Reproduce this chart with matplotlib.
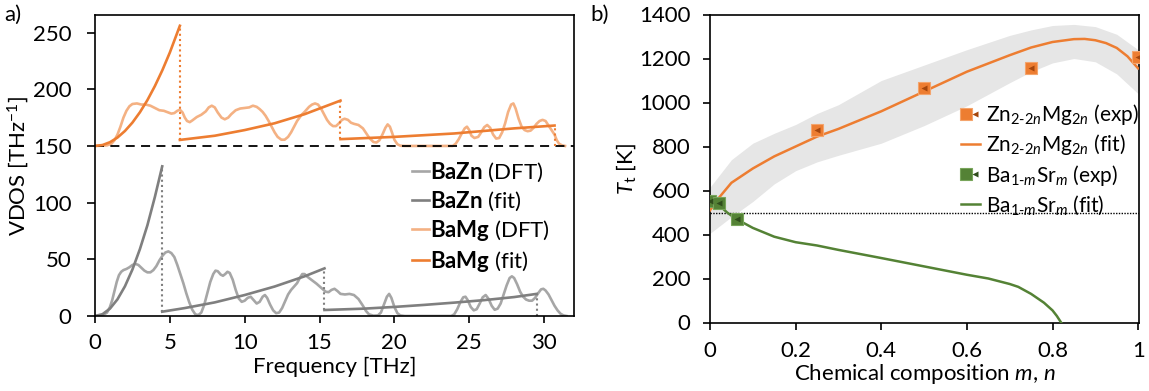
import matplotlib
matplotlib.use("Agg")
import matplotlib.pyplot as plt
from matplotlib.lines import Line2D
from matplotlib.legend_handler import HandlerTuple

plt.rcParams['font.family'] = ['Lato', 'DejaVu Sans']
plt.rcParams['mathtext.fontset'] = 'custom'
plt.rcParams['mathtext.rm'] = 'Lato'
plt.rcParams['mathtext.it'] = 'Lato:italic'
plt.rcParams['mathtext.bf'] = 'Lato:bold'

# ---------------- Panel a data ----------------
bazn_dft = [
    (0, 0), (0.5, 0.5), (0.8, 3), (1.0, 8), (1.15, 14), (1.3, 22), (1.45, 30), (1.6, 36), (1.75, 39),
    (1.9, 40.5), (2.1, 41.5), (2.3, 43), (2.5, 45), (2.7, 46), (2.9, 45), (3.1, 42.5), (3.3, 40),
    (3.5, 38.5), (3.7, 38.5), (3.9, 40.5), (4.1, 44), (4.3, 49), (4.5, 53), (4.7, 56), (4.9, 57),
    (5.1, 55.5), (5.3, 52), (5.5, 45), (5.7, 37), (5.9, 29), (6.1, 20), (6.3, 12), (6.5, 5.5),
    (6.7, 1.5), (6.9, 0.8), (7.1, 3), (7.3, 10), (7.5, 20), (7.7, 30), (7.9, 37), (8.05, 40),
    (8.2, 39.5), (8.4, 36.5), (8.55, 35.5), (8.7, 37), (8.85, 39), (9.0, 38), (9.2, 32), (9.4, 23),
    (9.6, 15.5), (9.8, 12.5), (10.0, 13.5), (10.2, 16), (10.4, 17), (10.6, 14), (10.8, 11),
    (11.0, 12.5), (11.2, 17), (11.35, 18.5), (11.5, 16), (11.7, 10), (11.9, 5), (12.1, 2.5),
    (12.3, 3), (12.5, 7), (12.7, 13), (12.9, 19), (13.1, 23), (13.3, 26), (13.5, 29), (13.7, 34),
    (13.85, 37), (14.0, 37), (14.2, 34.5), (14.5, 31.5), (14.8, 28.5), (15.1, 25), (15.4, 21.5),
    (15.6, 21), (15.8, 23), (16.0, 24), (16.2, 22), (16.4, 19.5), (16.7, 19), (17.0, 19.5),
    (17.3, 18.5), (17.6, 15), (17.9, 9), (18.1, 4.5), (18.3, 1.5), (18.6, 0.3), (18.9, 0.5),
    (19.1, 3), (19.3, 10), (19.5, 17), (19.65, 19.5), (19.8, 16), (20.0, 8), (20.2, 2.5),
    (20.4, 0.5), (20.7, 0), (23.8, 0), (24.0, 1.5), (24.2, 6), (24.4, 12), (24.6, 16.5),
    (24.75, 17), (24.9, 14), (25.1, 8), (25.3, 5), (25.5, 6), (25.7, 11), (25.9, 16.5),
    (26.1, 18.5), (26.3, 15), (26.5, 9), (26.7, 5.5), (26.9, 6.5), (27.1, 11), (27.3, 19),
    (27.5, 27), (27.7, 33.5), (27.85, 35), (28.0, 33.5), (28.2, 28), (28.4, 21.5), (28.6, 17),
    (28.8, 14.5), (29.0, 13.5), (29.2, 13.5), (29.4, 16), (29.6, 20), (29.8, 23.5), (29.95, 24),
    (30.1, 22.5), (30.3, 19), (30.5, 14), (30.7, 9), (30.9, 5), (31.1, 2), (31.3, 0.5), (31.5, 0)]
bazn_dft_f = [p[0] for p in bazn_dft]
bazn_dft_v = [p[1] for p in bazn_dft]

bamg_dft = [
    (0, 150), (0.8, 150.5), (1.1, 152), (1.3, 155), (1.5, 160), (1.7, 167), (1.9, 175), (2.1, 181),
    (2.3, 185), (2.5, 187), (2.8, 187.5), (3.1, 186.5), (3.4, 186.5), (3.7, 185.5), (4.0, 183.5),
    (4.3, 181.5), (4.6, 181), (4.9, 179.5), (5.1, 178.5), (5.3, 179), (5.5, 181), (5.67, 182),
    (5.85, 179.5), (6.0, 175), (6.15, 172), (6.33, 171), (6.5, 172.5), (6.8, 175.5), (7.1, 177.5),
    (7.4, 180.5), (7.6, 184), (7.8, 185.5), (8.0, 184), (8.2, 179.5), (8.45, 175), (8.67, 173.5),
    (8.9, 175), (9.1, 178), (9.4, 181.5), (9.7, 183), (10.0, 183.5), (10.3, 184), (10.55, 185.5),
    (10.8, 184.5), (11.0, 182.5), (11.2, 180), (11.4, 176.5), (11.6, 172), (11.8, 167), (12.0, 162),
    (12.2, 158), (12.45, 155.5), (12.67, 155.5), (12.9, 158), (13.1, 162), (13.3, 167), (13.5, 172),
    (13.8, 177.5), (14.0, 180), (14.3, 184.5), (14.5, 186.5), (14.7, 187.5), (14.9, 186.5),
    (15.1, 183), (15.3, 178), (15.5, 173), (15.7, 169.5), (15.9, 167.5), (16.1, 167.5), (16.3, 170),
    (16.5, 173), (16.67, 174), (16.9, 173), (17.1, 170.5), (17.3, 169.5), (17.6, 168.5),
    (17.9, 165.5), (18.1, 161.5), (18.33, 157), (18.6, 153.5), (18.8, 153), (19.0, 155),
    (19.2, 160), (19.4, 166), (19.55, 169), (19.7, 167), (19.85, 161.5), (20.0, 155.5),
    (20.2, 151.5), (20.4, 150.2), (20.7, 150), (23.9, 150), (24.1, 152), (24.3, 156), (24.5, 161),
    (24.7, 165.5), (24.85, 167), (25.0, 164), (25.15, 159), (25.35, 157), (25.6, 158), (25.8, 162),
    (26.0, 166.5), (26.2, 168.5), (26.4, 166), (26.6, 160), (26.8, 156.5), (27.0, 157), (27.2, 162),
    (27.4, 170), (27.6, 180), (27.8, 186.5), (27.95, 187.5), (28.1, 183), (28.3, 174), (28.5, 167),
    (28.7, 164), (28.9, 163), (29.1, 163.5), (29.3, 166), (29.5, 169.5), (29.7, 172), (29.9, 173),
    (30.1, 172), (30.3, 168), (30.5, 164), (30.7, 160), (30.85, 155), (31.0, 152), (31.2, 150.5),
    (31.4, 150)]
bamg_dft_f = [p[0] for p in bamg_dft]
bamg_dft_v = [p[1] for p in bamg_dft]

# Fit segments (frequency, VDOS)
bazn_fit1_f = [0, 0.5, 1.0, 1.5, 2.0, 2.5, 3.0, 3.5, 4.0, 4.49]
bazn_fit1_v = [0, 1.6, 6.5, 14.7, 26.2, 41, 59, 80, 105, 132]
bazn_fit2_f = [4.49, 6, 8, 10, 12, 14, 15.33]
bazn_fit2_v = [3.8, 7, 12, 18.5, 26, 35, 42]
bazn_fit3_f = [15.33, 18, 20, 22, 24, 26, 28, 29.5]
bazn_fit3_v = [5.3, 6.5, 8, 9.8, 11.8, 14, 16.7, 19.5]
bazn_drop_f = [4.49, 15.33, 29.5]
bazn_drop_top = [132, 42, 19.5]
bazn_drop_bot = [3.8, 5.3, 0]

bamg_fit1_f = [0, 0.5, 1.0, 1.5, 2.0, 2.5, 3.0, 3.5, 4.0, 4.5, 5.0, 5.67]
bamg_fit1_v = [150, 150.8, 153.3, 157.4, 163.2, 170.6, 179.7, 190.4, 202.8, 216.8, 232.4, 256]
bamg_fit2_f = [5.67, 8, 10, 12, 14, 16.4]
bamg_fit2_v = [155.3, 159, 164, 170, 178, 190]
bamg_fit3_f = [16.4, 20, 24, 28, 30.7]
bamg_fit3_v = [156, 158, 161, 165.5, 168]
bamg_drop_f = [5.67, 16.4, 30.7]
bamg_drop_top = [256, 190, 168]
bamg_drop_bot = [155.3, 156, 150]

offset_level = 150

# ---------------- Panel b data ----------------
zn_exp_n = [0.25, 0.5, 0.75, 1.0]
zn_exp_T = [875, 1065, 1155, 1205]
ba_exp_m = [0.0, 0.022, 0.062]
ba_exp_T = [553, 545, 471]

zn_fit_n = [0, 0.02, 0.05, 0.1, 0.15, 0.2, 0.25, 0.3, 0.4, 0.5, 0.6, 0.7, 0.75, 0.8,
            0.85, 0.875, 0.9, 0.925, 0.95, 0.975, 1.0]
zn_fit_T = [510, 565, 635, 700, 755, 800, 845, 880, 960, 1050, 1140, 1215, 1250, 1275,
            1288, 1289, 1283, 1270, 1248, 1210, 1155]

ba_fit_m = [0, 0.02, 0.04, 0.06, 0.1, 0.15, 0.2, 0.25, 0.3, 0.4, 0.5, 0.6, 0.65, 0.7, 0.72,
            0.75, 0.78, 0.8, 0.81, 0.82]
ba_fit_T = [555, 535, 500, 472, 430, 390, 365, 350, 330, 293, 255, 217, 200, 175, 162,
            130, 90, 55, 30, 0]

band_x = [0, 0.05, 0.1, 0.15, 0.2, 0.25, 0.3, 0.4, 0.5, 0.6, 0.7, 0.75, 0.8, 0.85, 0.9, 0.95, 1.0]
band_hi = [615, 740, 815, 860, 900, 950, 990, 1100, 1170, 1240, 1305, 1330, 1350, 1355, 1345, 1310, 1240]
band_lo = [405, 480, 550, 630, 690, 730, 760, 815, 895, 985, 1090, 1140, 1180, 1200, 1185, 1130, 1040]

threshold_T = 500

# ---------------- styling ----------------
C_ZN_DFT = '#a6a6a6'
C_ZN_FIT = '#7f7f7f'
C_MG_DFT = '#f4b183'
C_MG_FIT = '#ed7d31'
C_GREEN = '#548235'
FS = 16

fig = plt.figure(figsize=(11.49, 3.91), dpi=100)
axa = fig.add_axes([95/1149, 1-316/391, (574-95)/1149, (316-15)/391])
axb = fig.add_axes([710/1149, 1-322.5/391, (1139-710)/1149, (322.5-14.5)/391])

for ax in (axa, axb):
    for s in ax.spines.values():
        s.set_linewidth(1.2)
        s.set_color('black')
    ax.tick_params(direction='out', width=1.2, labelsize=FS)
axa.tick_params(axis='x', length=5, pad=7)
axa.tick_params(axis='y', length=6, pad=11)
axb.tick_params(axis='x', length=5, pad=8)
axb.tick_params(axis='y', length=5, pad=9)

# Panel a
lw = 1.9
axa.plot(bazn_dft_f, bazn_dft_v, color=C_ZN_DFT, lw=lw, solid_joinstyle='round')
axa.plot(bamg_dft_f, bamg_dft_v, color=C_MG_DFT, lw=lw, solid_joinstyle='round')
axa.axhline(offset_level, color='black', lw=1.3, ls=(0, (5, 3.5)))
for fx, fy in ((bazn_fit1_f, bazn_fit1_v), (bazn_fit2_f, bazn_fit2_v), (bazn_fit3_f, bazn_fit3_v)):
    axa.plot(fx, fy, color=C_ZN_FIT, lw=lw)
for fx, fy in ((bamg_fit1_f, bamg_fit1_v), (bamg_fit2_f, bamg_fit2_v), (bamg_fit3_f, bamg_fit3_v)):
    axa.plot(fx, fy, color=C_MG_FIT, lw=lw)
axa.vlines(bazn_drop_f, bazn_drop_bot, bazn_drop_top, colors=C_ZN_FIT, lw=1.5, linestyles=(0, (1, 1.5)))
axa.vlines(bamg_drop_f, bamg_drop_bot, bamg_drop_top, colors=C_MG_FIT, lw=1.5, linestyles=(0, (1, 1.5)))

axa.set_xlim(0, 32)
axa.set_ylim(0, 265.5)
axa.set_xticks([0, 5, 10, 15, 20, 25, 30])
axa.set_yticks([0, 50, 100, 150, 200, 250])
axa.set_xlabel('Frequency [THz]', fontsize=FS, labelpad=3)
axa.set_ylabel('VDOS [THz$^{-1}$]', fontsize=FS, labelpad=1)

handles_a = [Line2D([], [], color=C_ZN_DFT, lw=lw), Line2D([], [], color=C_ZN_FIT, lw=lw),
             Line2D([], [], color=C_MG_DFT, lw=lw), Line2D([], [], color=C_MG_FIT, lw=lw)]
labels_a = [r'$\mathbf{BaZn}$ (DFT)', r'$\mathbf{BaZn}$ (fit)', r'$\mathbf{BaMg}$ (DFT)', r'$\mathbf{BaMg}$ (fit)']
axa.legend(handles_a, labels_a, loc='upper left', bbox_to_anchor=(0.662, 0.515), frameon=False,
           fontsize=FS, handlelength=0.75, handletextpad=0.05, labelspacing=0.24, borderpad=0, borderaxespad=0)

fig.text(4/1149, 1-15/391, 'a)', fontsize=FS, ha='left', va='center')
fig.text(590/1149, 1-15/391, 'b)', fontsize=FS, ha='left', va='center')

# Panel b
axb.fill_between(band_x, band_lo, band_hi, color='#e6e6e6', lw=0, zorder=1)
axb.axhline(threshold_T, color='black', lw=1.0, ls=(0, (1, 1)), zorder=2)
axb.plot(zn_fit_n, zn_fit_T, color=C_MG_FIT, lw=1.8, zorder=3)
axb.plot(ba_fit_m, ba_fit_T, color=C_GREEN, lw=1.8, zorder=3)
ms = 8
zn_sq, = axb.plot(zn_exp_n, zn_exp_T, ls='none', marker='s', ms=ms, mfc=C_MG_FIT, mec='#f4a46c', mew=0.8, zorder=4)
zn_tr, = axb.plot(zn_exp_n, zn_exp_T, ls='none', marker='<', ms=4, mfc='#a5460d', mec='none', zorder=5)
ba_sq, = axb.plot(ba_exp_m, ba_exp_T, ls='none', marker='s', ms=ms, mfc=C_GREEN, mec='#78a55a', mew=0.8, zorder=4)
ba_tr, = axb.plot(ba_exp_m, ba_exp_T, ls='none', marker='<', ms=4, mfc='#2f4d1c', mec='none', zorder=5)

axb.set_xlim(0, 1.002)
axb.set_ylim(0, 1400)
axb.set_xticks([0, 0.2, 0.4, 0.6, 0.8, 1.0])
axb.set_xticklabels(['0', '0.2', '0.4', '0.6', '0.8', '1'])
axb.set_yticks([0, 200, 400, 600, 800, 1000, 1200, 1400])
axb.set_xlabel('Chemical composition $m$, $n$', fontsize=FS, labelpad=1)
axb.set_ylabel(r'$T_\mathrm{t}$ [K]', fontsize=FS, labelpad=1)

handles_b = [(zn_sq, zn_tr), Line2D([], [], color=C_MG_FIT, lw=1.8),
             (ba_sq, ba_tr), Line2D([], [], color=C_GREEN, lw=1.8)]
labels_b = [r'Zn$_{2\text{-}2\mathit{n}}$Mg$_{2\mathit{n}}$ (exp)',
            r'Zn$_{2\text{-}2\mathit{n}}$Mg$_{2\mathit{n}}$ (fit)',
            r'Ba$_{1\text{-}\mathit{m}}$Sr$_{\mathit{m}}$ (exp)',
            r'Ba$_{1\text{-}\mathit{m}}$Sr$_{\mathit{m}}$ (fit)']
axb.legend(handles_b, labels_b, loc='upper left', bbox_to_anchor=(0.585, 0.715), frameon=False,
           fontsize=15, handlelength=0.9, handletextpad=0.3, labelspacing=0.25, borderpad=0, borderaxespad=0,
           handler_map={tuple: HandlerTuple(ndivide=None)})

fig.savefig('out.png', dpi=100)
